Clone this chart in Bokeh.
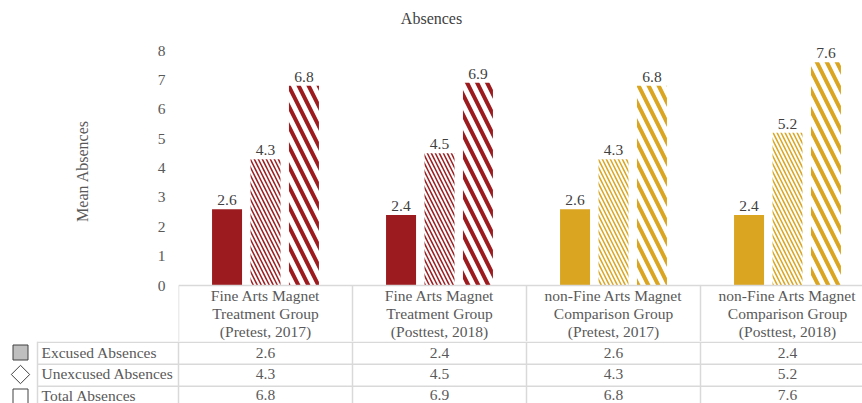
from bokeh.plotting import figure
from bokeh.models import Range1d, FixedTicker, ColumnDataSource
from bokeh.core.properties import value
from bokeh.embed import file_html
from bokeh.resources import INLINE

# ---------------- data ----------------
title = "Absences"
y_label = "Mean Absences"
categories = [
    "Fine Arts Magnet\nTreatment Group\n(Pretest, 2017)",
    "Fine Arts Magnet\nTreatment Group\n(Posttest, 2018)",
    "non-Fine Arts Magnet\nComparison Group\n(Pretest, 2017)",
    "non-Fine Arts Magnet\nComparison Group\n(Posttest, 2018)",
]
series_names = ["Excused Absences", "Unexcused Absences", "Total Absences"]
excused = [2.6, 2.4, 2.6, 2.4]
unexcused = [4.3, 4.5, 4.3, 5.2]
total = [6.8, 6.9, 6.8, 7.6]
y_ticks = [0, 1, 2, 3, 4, 5, 6, 7, 8]

# ---------------- styles / layout ----------------
RED = "#9B1B1F"
GOLD = "#DAA520"
group_colors = [RED, RED, GOLD, GOLD]
FONT = value("Liberation Serif")
FS = "15.5px"
TXT = "#595959"
DARK = "#404040"
GRID = "#D9D9D9"

W = 862
PLOT_LEFT = 178
ZERO_Y = 285          # pixel row of y = 0
HEADER_H = 56         # header row of the data table (category names)
ROW_H = 22
TOP_H = ZERO_Y + HEADER_H
BOT_H = 403 - TOP_H
PX_CAT = 174.0
PX_UNIT = 29.375
x_end = (W - PLOT_LEFT) / PX_CAT
offsets = [-0.221, 0.0, 0.221]
bar_w = 30 / PX_CAT
n = len(categories)

# ---------------- chart (with table header row) ----------------
p = figure(width=W, height=TOP_H, output_backend="svg", toolbar_location=None,
           x_range=Range1d(0, x_end),
           y_range=Range1d(-HEADER_H / PX_UNIT, ZERO_Y / PX_UNIT),
           x_axis_location=None, min_border_left=PLOT_LEFT, min_border_right=0,
           min_border_top=0, min_border_bottom=0)
p.outline_line_color = None
p.grid.visible = False

values_list = [excused, unexcused, total]
for s, vals in enumerate(values_list):
    xs = [i + 0.5 + offsets[s] for i in range(n)]
    src = ColumnDataSource(dict(x=xs, top=vals, color=group_colors,
                                lab=["%.1f" % v for v in vals]))
    if s == 0:
        p.vbar(x="x", top="top", width=bar_w, source=src, fill_color="color", line_color=None)
    elif s == 1:
        p.vbar(x="x", top="top", width=bar_w, source=src, fill_color="white",
               hatch_pattern="\\", hatch_color="color", hatch_scale=8, hatch_weight=1.5,
               line_color=None)
    else:
        p.vbar(x="x", top="top", width=bar_w, source=src, fill_color="white",
               hatch_pattern="\\", hatch_color="color", hatch_scale=20, hatch_weight=4,
               line_color=None)
    p.text(x="x", y="top", text="lab", source=src, text_align="center",
           text_baseline="bottom", y_offset=-4, text_font=FONT,
           text_font_size=FS, text_color=DARK)

# title (centred on the whole canvas)
p.text(x=[(W / 2 - PLOT_LEFT) / PX_CAT], y=[(ZERO_Y - 18) / PX_UNIT], text=[title],
       text_align="center", text_baseline="middle", text_font=FONT,
       text_font_size="16px", text_color=DARK)

# header row of the table
y_hdr_bottom = -HEADER_H / PX_UNIT
p.segment(x0=[0.0], y0=[0.0], x1=[x_end], y1=[0.0], line_color=GRID, line_width=1.5)
vx = [float(i) for i in range(n + 1)]
p.segment(x0=vx, y0=[0.0] * len(vx), x1=vx, y1=[y_hdr_bottom] * len(vx),
          line_color=GRID, line_width=1.5)
hxs, hys, htx = [], [], []
for i, c in enumerate(categories):
    for k, line in enumerate(c.split("\n")):
        hxs.append(i + 0.5)
        hys.append(-(10 + 18 * k) / PX_UNIT)
        htx.append(line)
p.text(x=hxs, y=hys, text=htx, text_align="center", text_baseline="middle",
       text_font=FONT, text_font_size=FS, text_color=TXT)

ax = p.yaxis[0]
ax.ticker = FixedTicker(ticks=y_ticks)
ax.axis_line_color = None
ax.major_tick_line_color = None
ax.minor_tick_line_color = None
ax.major_label_standoff = 7
ax.major_label_text_font = "Liberation Serif"
ax.major_label_text_font_size = FS
ax.major_label_text_color = TXT
ax.axis_label = y_label
ax.axis_label_standoff = 64
ax.axis_label_text_font = "Liberation Serif"
ax.axis_label_text_font_size = "16px"
ax.axis_label_text_font_style = "normal"
ax.axis_label_text_color = TXT

# ---------------- data table rows ----------------
t = figure(width=W, height=BOT_H, output_backend="svg", toolbar_location=None,
           x_range=Range1d(-PLOT_LEFT / PX_CAT, x_end), y_range=Range1d(BOT_H, 0),
           x_axis_location=None, y_axis_location=None,
           min_border_left=0, min_border_right=0, min_border_top=0, min_border_bottom=0)
t.outline_line_color = None
t.grid.visible = False

label_col_left = (37 - PLOT_LEFT) / PX_CAT
hy = [0.75 + r * ROW_H for r in range(3)]
t.segment(x0=[label_col_left] * 3, y0=hy, x1=[x_end] * 3, y1=hy,
          line_color=GRID, line_width=1.5)
vx2 = vx + [label_col_left]
t.segment(x0=vx2, y0=[0] * len(vx2), x1=vx2, y1=[BOT_H] * len(vx2),
          line_color=GRID, line_width=1.5)

# text centres of the rows (last row nudged up so it stays inside the window)
row_y = [11 + 21.3 * r for r in range(3)]
cxs, cys, ctx = [], [], []
for r, vals in enumerate(values_list):
    for i, v in enumerate(vals):
        cxs.append(i + 0.5)
        cys.append(row_y[r])
        ctx.append("%.1f" % v)
t.text(x=cxs, y=cys, text=ctx, text_align="center", text_baseline="middle",
       text_font=FONT, text_font_size=FS, text_color=TXT)

t.text(x=[(41 - PLOT_LEFT) / PX_CAT] * 3, y=row_y, text=series_names, text_align="left",
       text_baseline="middle", text_font=FONT, text_font_size=FS, text_color=TXT)

key_x = (20 - PLOT_LEFT) / PX_CAT
key_y = [ROW_H * r + ROW_H / 2 for r in range(3)]
t.scatter(x=[key_x] * 3, y=key_y, marker="square", size=[15, 13, 15],
          angle=[0, 0.7854, 0], fill_color=["#BFBFBF", "white", "white"],
          line_color=DARK, line_width=1)

open("out.html", "w").write(file_html([p, t], INLINE))
